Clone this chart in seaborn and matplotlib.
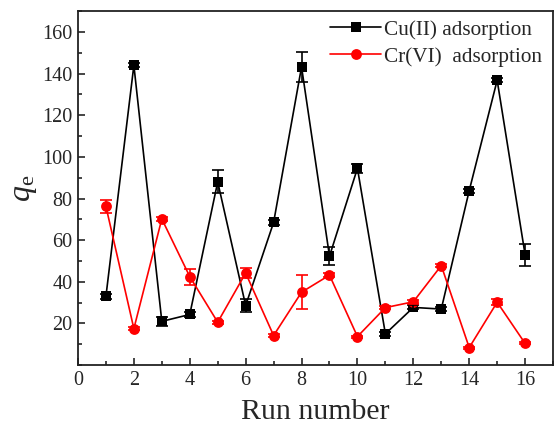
import numpy as np
import pandas as pd
import matplotlib
matplotlib.use("Agg")
import matplotlib.pyplot as plt
import seaborn as sns
from matplotlib.ticker import MultipleLocator

run = list(range(1, 17))
cu_values = [33, 144, 21, 24.3, 88, 28.6, 68.5, 143.2, 52.3, 94.5, 15, 27.7, 26.9, 83.8, 136.8, 53]
cu_err = [1.2, 1.0, 2.3, 1.0, 5.5, 3.2, 1.0, 7.2, 4.4, 2.0, 1.0, 1.0, 1.0, 1.0, 1.0, 5.3]
cr_values = [76.2, 17.5, 70.2, 42.5, 20.6, 44.2, 14.2, 35, 43.2, 13.7, 27.6, 30.4, 47.8, 8.4, 30.2, 10.4]
cr_err = [3.0, 0.8, 0.8, 3.8, 0.8, 2.6, 0.5, 8.1, 0.8, 0.5, 0.8, 1.0, 0.8, 0.5, 1.5, 0.5]
cu_label = "Cu(II) adsorption"
cr_label = "Cr(VI)  adsorption"

sns.set_style("ticks")
plt.rcParams['font.family'] = ['Liberation Serif', 'DejaVu Serif']
plt.rcParams['mathtext.fontset'] = 'custom'
plt.rcParams['mathtext.it'] = 'Liberation Serif:italic'
plt.rcParams['mathtext.rm'] = 'Liberation Serif'

df = pd.DataFrame({"run": run + run,
                   "qe": cu_values + cr_values,
                   "series": [cu_label] * 16 + [cr_label] * 16})

fig = plt.figure(figsize=(5.55, 4.29), dpi=100)
ax = fig.add_axes([0.1405, 0.149, 0.856, 0.825])

sns.lineplot(data=df, x="run", y="qe", hue="series", style="series",
             palette={cu_label: "black", cr_label: "red"},
             markers={cu_label: "s", cr_label: "o"}, dashes=False,
             markersize=7.8, markeredgewidth=0, linewidth=1.2, ax=ax)
ax.errorbar(run, cu_values, yerr=cu_err, fmt="none", ecolor="black",
            elinewidth=1.2, capsize=4, capthick=1.2)
ax.errorbar(run, cr_values, yerr=cr_err, fmt="none", ecolor="red",
            elinewidth=1.2, capsize=4, capthick=1.2)

ax.set_xlim(0, 17)
ax.set_ylim(0, 170)
ax.xaxis.set_major_locator(MultipleLocator(2))
ax.xaxis.set_minor_locator(MultipleLocator(1))
ax.yaxis.set_minor_locator(MultipleLocator(10))
ax.set_yticks([20, 40, 60, 80, 100, 120, 140, 160])
ax.tick_params(which="major", direction="in", length=5, width=1.2, labelsize=14.5,
               top=False, right=False, pad=4)
ax.tick_params(which="minor", direction="in", length=3, width=1.2,
               top=False, right=False)
for s in ax.spines.values():
    s.set_linewidth(1.3)
    s.set_color("#222222")

ax.set_xlabel("Run number", fontsize=21.5, labelpad=7)
ax.set_ylabel(r"$q_{\mathrm{e}}$", fontsize=23, labelpad=2)

leg = ax.legend(loc="upper right", bbox_to_anchor=(1.0, 1.005), frameon=False,
                fontsize=15.3, handlelength=2.4, handletextpad=0.15,
                borderaxespad=0.1, labelspacing=0.32)

fig.savefig("out.png", dpi=100)
